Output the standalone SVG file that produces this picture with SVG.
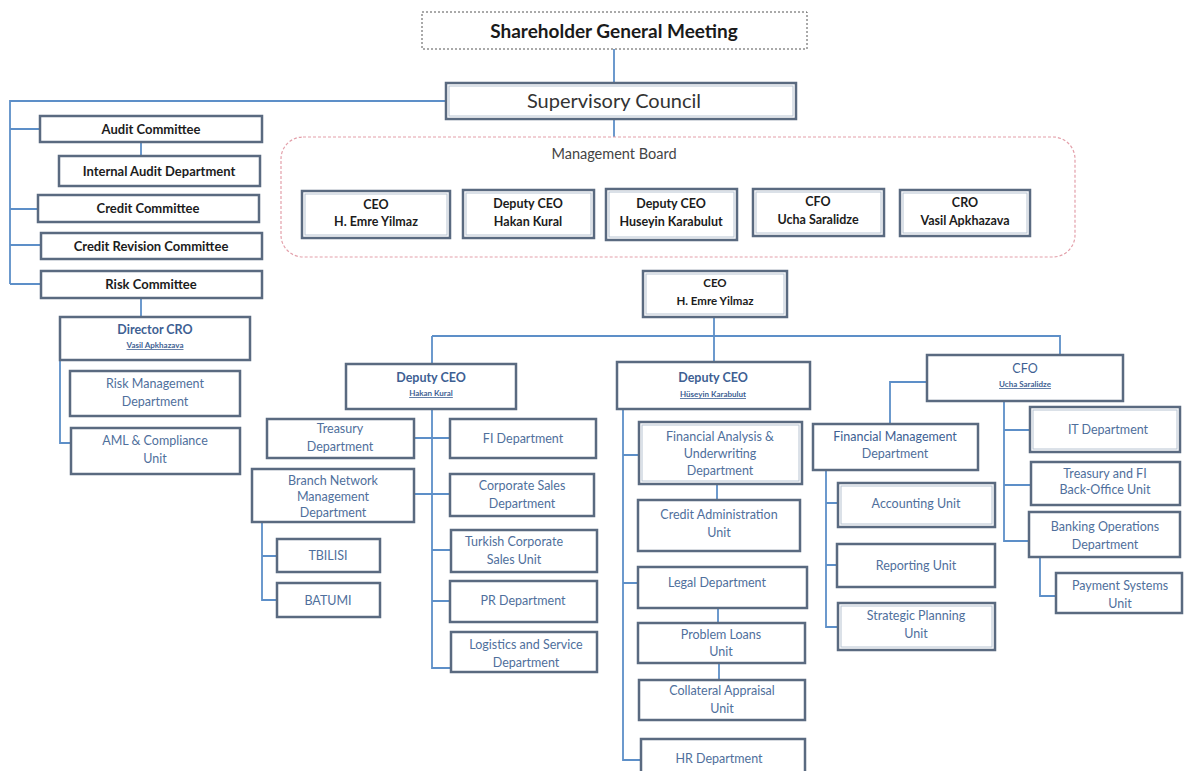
<svg xmlns="http://www.w3.org/2000/svg" width="1192" height="771" viewBox="0 0 1192 771">
<style>
  .bg{fill:#ffffff}
  .box{fill:#ffffff;stroke:#5a6a80;stroke-width:2.5}
  .inner{fill:none;stroke:#b8c4d2;stroke-width:1}
  .dash{fill:#ffffff;stroke:#555;stroke-width:1;stroke-dasharray:2 2}
  .mb{fill:none;stroke:#e3a0aa;stroke-width:1.2;stroke-dasharray:3 2}
  .ln{fill:none;stroke:#5d8fc8;stroke-width:1.8}
  text{font-family:Lato,"Liberation Sans",sans-serif;text-anchor:middle}
  .t-top{font-size:13px;font-weight:bold;fill:#1c1c1c}
  .t-mb{font-size:12.5px;font-weight:bold;fill:#1c1c1c}
  .t-org{font-size:12.5px;fill:#4f6f9c}
  .t-head{font-size:12.5px;font-weight:bold;fill:#3e5f93}
  .t-name{font-size:8px;font-weight:bold;fill:#3e5f93;text-decoration:underline}
</style>
<rect class="bg" x="0" y="0" width="1192" height="771"/>

<g id="connectors">
  <path class="ln" d="M614 49V83M614 119V137"/>
  <path class="ln" d="M446 101H10V284M10 129H40M10 209H38M10 245H41M10 284H41"/>
  <path class="ln" d="M141 142V156M141 298V317M60 360V443H71"/>
  <path class="ln" d="M714 317V336M432 336H1060V355M432 336V364M714 336V362"/>
  <path class="ln" d="M432 409V668H451M414 438H450M414 494H450M432 550H451M432 601H450"/>
  <path class="ln" d="M262 522V600H277M262 556H277"/>
  <path class="ln" d="M623 409V760H641M623 455H639M623 583H638"/>
  <path class="ln" d="M717 484V500M718 608V623M719 663V680"/>
  <path class="ln" d="M927 382H890V424"/>
  <path class="ln" d="M826 470V627H838M826 503H838M826 565H837"/>
  <path class="ln" d="M1004 401V541H1029M1004 430H1030M1004 485H1031"/>
  <path class="ln" d="M1040 557V596H1056"/>
</g>

<g id="sgm"><rect class="dash" x="422" y="12" width="385" height="37"/><text x="614" y="38" style="font-size:19px;font-weight:bold;fill:#1a1a1a">Shareholder General Meeting</text></g>
<g id="supervisory-council"><rect class="box" x="446" y="83" width="350" height="36"/><rect class="inner" x="449" y="86" width="344" height="30"/><text x="614" y="108" style="font-size:20px;fill:#333">Supervisory Council</text></g>

<g id="audit-committee"><rect class="box" x="40" y="116" width="222" height="26"/><text class="t-top" x="151" y="134">Audit Committee</text></g>
<g id="internal-audit"><rect class="box" x="59" y="156" width="201" height="30"/><text class="t-top" x="159" y="176">Internal Audit Department</text></g>
<g id="credit-committee"><rect class="box" x="38" y="195" width="221" height="27"/><text class="t-top" x="148" y="213">Credit Committee</text></g>
<g id="credit-revision"><rect class="box" x="41" y="233" width="221" height="26"/><text class="t-top" x="151" y="251">Credit Revision Committee</text></g>
<g id="risk-committee"><rect class="box" x="41" y="271" width="221" height="27"/><text class="t-top" x="151" y="289">Risk Committee</text></g>
<g id="director-cro"><rect class="box" x="60" y="317" width="190" height="43"/><text class="t-head" x="155" y="334">Director CRO</text><text class="t-name" x="155" y="348">Vasil Apkhazava</text></g>
<g id="risk-management"><rect class="box" x="70" y="371" width="170" height="45"/><text class="t-org" x="155" y="388">Risk Management</text><text class="t-org" x="155" y="406">Department</text></g>
<g id="aml"><rect class="box" x="71" y="428" width="169" height="46"/><text class="t-org" x="155" y="445">AML &amp; Compliance</text><text class="t-org" x="155" y="463">Unit</text></g>

<g id="management-board"><rect class="mb" x="281" y="137" width="794" height="120" rx="22"/><text x="614" y="159" style="font-size:14.5px;fill:#444">Management Board</text></g>
<g id="mb-ceo"><rect class="box" x="302" y="191" width="148" height="47"/><rect class="inner" x="305" y="194" width="142" height="41"/><text class="t-mb" x="376" y="209">CEO</text><text class="t-mb" x="376" y="226">H. Emre Yilmaz</text></g>
<g id="mb-dceo1"><rect class="box" x="463" y="190" width="131" height="48"/><rect class="inner" x="466" y="193" width="125" height="42"/><text class="t-mb" x="528" y="208">Deputy CEO</text><text class="t-mb" x="528" y="226">Hakan Kural</text></g>
<g id="mb-dceo2"><rect class="box" x="606" y="189" width="131" height="51"/><rect class="inner" x="609" y="192" width="125" height="45"/><text class="t-mb" x="671" y="208">Deputy CEO</text><text class="t-mb" x="671" y="226">Huseyin Karabulut</text></g>
<g id="mb-cfo"><rect class="box" x="753" y="189" width="131" height="47"/><rect class="inner" x="756" y="192" width="125" height="41"/><text class="t-mb" x="818" y="206">CFO</text><text class="t-mb" x="818" y="224">Ucha Saralidze</text></g>
<g id="mb-cro"><rect class="box" x="900" y="190" width="130" height="46"/><rect class="inner" x="903" y="193" width="124" height="40"/><text class="t-mb" x="965" y="207">CRO</text><text class="t-mb" x="965" y="225">Vasil Apkhazava</text></g>

<g id="ceo"><rect class="box" x="643" y="271" width="144" height="46"/><rect class="inner" x="646" y="274" width="138" height="40"/><text class="t-mb" x="715" y="287" style="font-size:11.5px">CEO</text><text class="t-mb" x="715" y="305" style="font-size:11.5px">H. Emre Yilmaz</text></g>

<g id="dceo-kural"><rect class="box" x="346" y="364" width="170" height="45"/><text class="t-head" x="431" y="382">Deputy CEO</text><text class="t-name" x="431" y="396">Hakan Kural</text></g>
<g id="treasury"><rect class="box" x="267" y="419" width="147" height="39"/><text class="t-org" x="340" y="433">Treasury</text><text class="t-org" x="340" y="451">Department</text></g>
<g id="branch-network"><rect class="box" x="252" y="469" width="162" height="53"/><text class="t-org" x="333" y="485">Branch Network</text><text class="t-org" x="333" y="501">Management</text><text class="t-org" x="333" y="517">Department</text></g>
<g id="tbilisi"><rect class="box" x="277" y="539" width="103" height="33"/><text class="t-org" x="328" y="560">TBILISI</text></g>
<g id="batumi"><rect class="box" x="277" y="583" width="103" height="34"/><text class="t-org" x="328" y="605">BATUMI</text></g>
<g id="fi-dept"><rect class="box" x="450" y="419" width="146" height="39"/><text class="t-org" x="523" y="443">FI Department</text></g>
<g id="corporate-sales"><rect class="box" x="450" y="474" width="144" height="42"/><text class="t-org" x="522" y="490">Corporate Sales</text><text class="t-org" x="522" y="508">Department</text></g>
<g id="turkish-corporate"><rect class="box" x="451" y="530" width="146" height="42"/><text class="t-org" x="514" y="546">Turkish Corporate</text><text class="t-org" x="514" y="564">Sales Unit</text></g>
<g id="pr-dept"><rect class="box" x="450" y="581" width="147" height="41"/><text class="t-org" x="523" y="605">PR Department</text></g>
<g id="logistics"><rect class="box" x="451" y="632" width="146" height="40"/><text class="t-org" x="526" y="649">Logistics and Service</text><text class="t-org" x="526" y="667">Department</text></g>

<g id="dceo-karabulut"><rect class="box" x="617" y="362" width="193" height="47"/><text class="t-head" x="713" y="382">Deputy CEO</text><text class="t-name" x="713" y="397">Hüseyin Karabulut</text></g>
<g id="financial-analysis"><rect class="box" x="639" y="422" width="163" height="62"/><rect class="inner" x="642" y="425" width="157" height="56"/><text class="t-org" x="720" y="441">Financial Analysis &amp;</text><text class="t-org" x="720" y="458">Underwriting</text><text class="t-org" x="720" y="475">Department</text></g>
<g id="credit-admin"><rect class="box" x="638" y="500" width="162" height="51"/><text class="t-org" x="719" y="519">Credit Administration</text><text class="t-org" x="719" y="537">Unit</text></g>
<g id="legal"><rect class="box" x="638" y="567" width="169" height="41"/><text class="t-org" x="717" y="587">Legal Department</text></g>
<g id="problem-loans"><rect class="box" x="638" y="623" width="167" height="40"/><text class="t-org" x="721" y="639">Problem Loans</text><text class="t-org" x="721" y="656">Unit</text></g>
<g id="collateral"><rect class="box" x="639" y="680" width="166" height="40"/><text class="t-org" x="722" y="695">Collateral Appraisal</text><text class="t-org" x="722" y="713">Unit</text></g>
<g id="hr"><rect class="box" x="641" y="739" width="164" height="40"/><text class="t-org" x="719" y="763">HR Department</text></g>

<g id="cfo"><rect class="box" x="927" y="355" width="196" height="46"/><text class="t-head" x="1025" y="373" style="font-weight:normal">CFO</text><text class="t-name" x="1025" y="387">Ucha Saralidze</text></g>
<g id="financial-management"><rect class="box" x="813" y="424" width="165" height="46"/><text class="t-head" x="895" y="441" style="font-weight:normal">Financial Management</text><text class="t-org" x="895" y="458">Department</text></g>
<g id="accounting"><rect class="box" x="838" y="483" width="157" height="44"/><rect class="inner" x="841" y="486" width="151" height="38"/><text class="t-org" x="916" y="508">Accounting Unit</text></g>
<g id="reporting"><rect class="box" x="837" y="544" width="158" height="43"/><text class="t-org" x="916" y="570">Reporting Unit</text></g>
<g id="strategic-planning"><rect class="box" x="838" y="603" width="157" height="47"/><rect class="inner" x="841" y="606" width="151" height="41"/><text class="t-org" x="916" y="620">Strategic Planning</text><text class="t-org" x="916" y="638">Unit</text></g>
<g id="it-dept"><rect class="box" x="1030" y="407" width="150" height="45"/><rect class="inner" x="1033" y="410" width="144" height="39"/><text class="t-org" x="1108" y="434">IT Department</text></g>
<g id="treasury-backoffice"><rect class="box" x="1031" y="462" width="149" height="43"/><text class="t-org" x="1105" y="478">Treasury and FI</text><text class="t-org" x="1105" y="494">Back-Office Unit</text></g>
<g id="banking-operations"><rect class="box" x="1029" y="512" width="151" height="45"/><text class="t-org" x="1105" y="531">Banking Operations</text><text class="t-org" x="1105" y="549">Department</text></g>
<g id="payment-systems"><rect class="box" x="1056" y="573" width="126" height="40"/><text class="t-org" x="1120" y="590">Payment Systems</text><text class="t-org" x="1120" y="608">Unit</text></g>
</svg>
